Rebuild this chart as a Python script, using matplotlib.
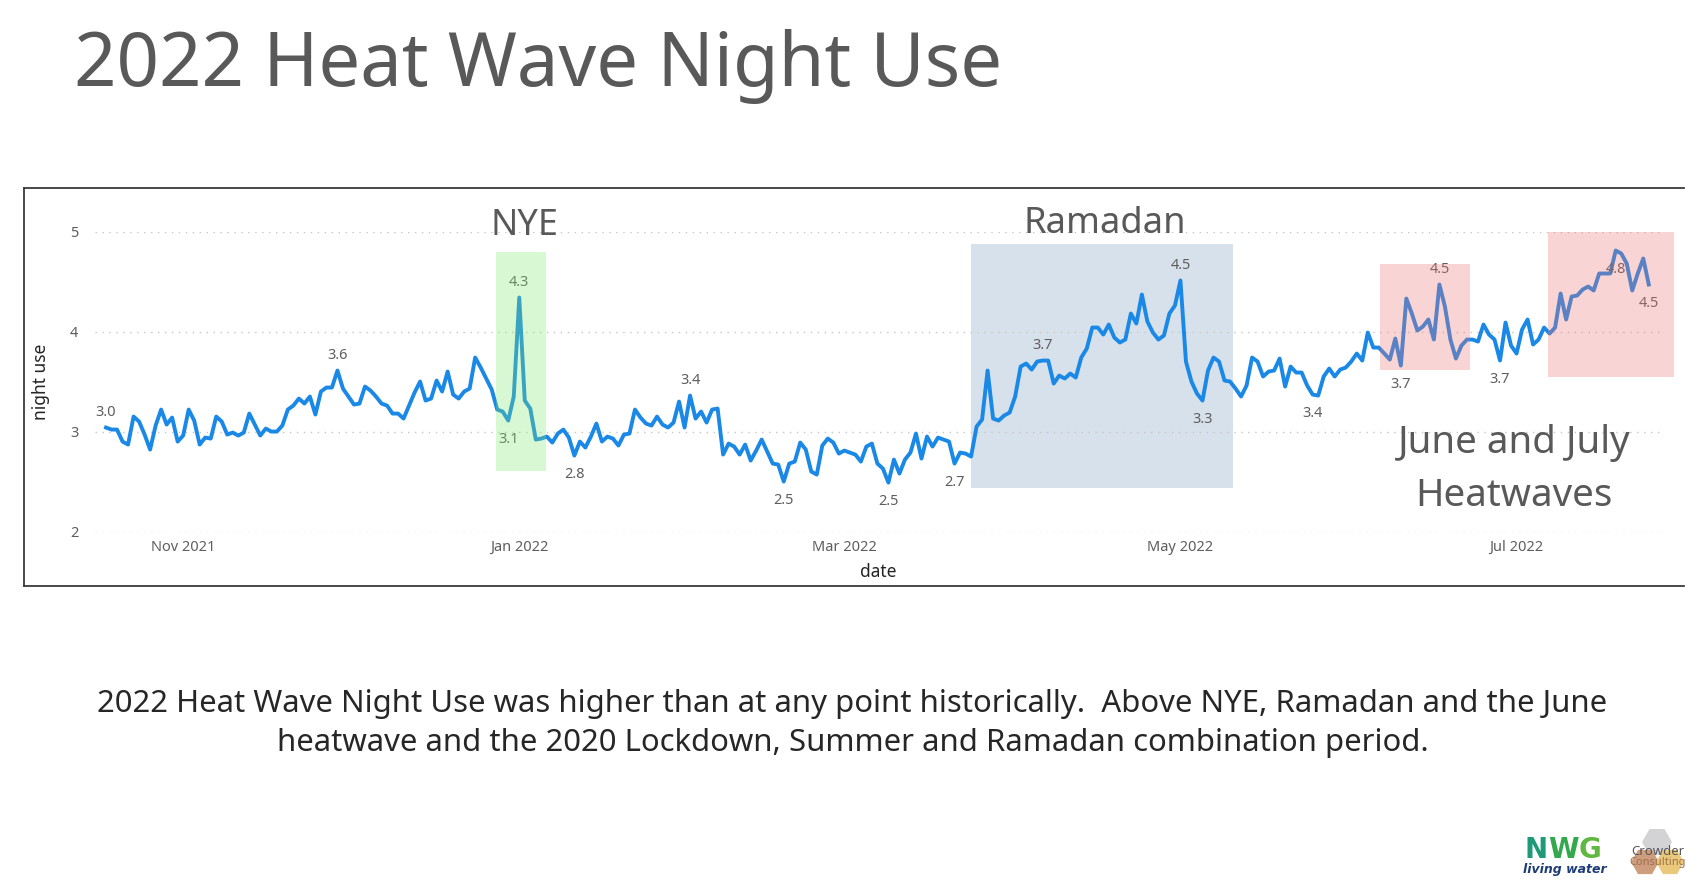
import pandas as pd
import matplotlib
matplotlib.use('Agg')
import matplotlib.pyplot as plt
import matplotlib.dates as mdates
from matplotlib.patches import Rectangle, RegularPolygon
from matplotlib.lines import Line2D
from matplotlib.transforms import IdentityTransform

plt.rcParams['font.family'] = ['Noto Sans', 'DejaVu Sans']

W, H = 1701, 883

# daily night use
start_date = '2021-10-18'
night_use = [
    3.04, 3.02, 3.02, 2.90, 2.87, 3.15, 3.10, 2.97, 2.82, 3.06,
    3.22, 3.07, 3.14, 2.90, 2.96, 3.22, 3.11, 2.87, 2.94, 2.93,
    3.15, 3.10, 2.97, 2.99, 2.96, 2.99, 3.18, 3.07, 2.96, 3.03,
    3.00, 3.00, 3.06, 3.22, 3.26, 3.33, 3.28, 3.35, 3.17, 3.40,
    3.44, 3.44, 3.61, 3.43, 3.35, 3.27, 3.28, 3.45, 3.41, 3.35,
    3.28, 3.26, 3.18, 3.18, 3.13, 3.26, 3.39, 3.50, 3.31, 3.33,
    3.51, 3.40, 3.60, 3.37, 3.33, 3.40, 3.43, 3.74, 3.64, 3.53,
    3.42, 3.22, 3.20, 3.11, 3.35, 4.34, 3.31, 3.23, 2.92, 2.93,
    2.95, 2.89, 2.98, 3.02, 2.94, 2.76, 2.90, 2.84, 2.95, 3.08,
    2.90, 2.95, 2.93, 2.86, 2.97, 2.98, 3.22, 3.14, 3.08, 3.06,
    3.15, 3.07, 3.04, 3.09, 3.30, 3.04, 3.36, 3.13, 3.20, 3.09,
    3.22, 3.23, 2.77, 2.88, 2.85, 2.77, 2.87, 2.71, 2.81, 2.92,
    2.80, 2.68, 2.67, 2.50, 2.68, 2.70, 2.89, 2.82, 2.60, 2.57,
    2.86, 2.93, 2.89, 2.78, 2.81, 2.79, 2.77, 2.70, 2.85, 2.88,
    2.68, 2.63, 2.49, 2.72, 2.58, 2.72, 2.79, 2.98, 2.73, 2.95,
    2.85, 2.94, 2.92, 2.90, 2.68, 2.79, 2.78, 2.75, 3.05, 3.12,
    3.61, 3.13, 3.11, 3.16, 3.19, 3.35, 3.65, 3.68, 3.62, 3.70,
    3.71, 3.71, 3.48, 3.56, 3.53, 3.58, 3.54, 3.74, 3.83, 4.04,
    4.04, 3.97, 4.07, 3.94, 3.89, 3.92, 4.18, 4.08, 4.37, 4.10,
    3.99, 3.92, 3.96, 4.18, 4.26, 4.51, 3.70, 3.50, 3.38, 3.31,
    3.61, 3.74, 3.70, 3.51, 3.50, 3.43, 3.35, 3.46, 3.74, 3.70,
    3.55, 3.60, 3.61, 3.73, 3.45, 3.65, 3.59, 3.59, 3.46, 3.37,
    3.36, 3.55, 3.63, 3.55, 3.62, 3.64, 3.70, 3.78, 3.71, 3.99,
    3.84, 3.84, 3.78, 3.72, 3.93, 3.66, 4.33, 4.18, 4.01, 4.05,
    4.12, 3.92, 4.47, 4.25, 3.92, 3.73, 3.86, 3.92, 3.92, 3.90,
    4.07, 3.97, 3.92, 3.71, 4.09, 3.86, 3.78, 4.02, 4.12, 3.87,
    3.92, 4.04, 3.98, 4.04, 4.38, 4.12, 4.35, 4.36, 4.42, 4.45,
    4.41, 4.58, 4.58, 4.58, 4.81, 4.78, 4.68, 4.41, 4.58, 4.73,
    4.47,
]

# indices of points that carry a data label
labels_above = [0, 42, 75, 106, 170, 195, 242]
labels_below = [73, 85, 123, 142, 154, 199, 219, 235, 253, 274, 280]

# highlighted periods: start, end, low, high
nye_box = ('2021-12-27 17:00', '2022-01-05 19:00', 2.61, 4.80)
ramadan_box = ('2022-03-23 22:00', '2022-05-10 14:00', 2.435, 4.875)
heat_boxes = [('2022-06-06 05:00', '2022-06-22 12:00', 3.62, 4.68),
              ('2022-07-06 17:00', '2022-07-29 12:00', 3.55, 5.00)]

LINE = '#1a88e6'
GREY = '#605e5c'
TXT = '#595959'


def fx(x):
    return x / W


def fy(y):
    return 1 - y / H


def fit_width(t, width_px):
    r = fig.canvas.get_renderer()
    bb = t.get_window_extent(renderer=r)
    t.set_fontsize(t.get_fontsize() * width_px / bb.width)
    return t.get_fontsize()


def add_box(ax, box, color, alpha, z):
    x0 = mdates.date2num(pd.Timestamp(box[0]))
    x1 = mdates.date2num(pd.Timestamp(box[1]))
    ax.add_patch(Rectangle((x0, box[2]), x1 - x0, box[3] - box[2],
                           facecolor=color, alpha=alpha, edgecolor='none',
                           zorder=z, clip_on=False))


fig = plt.figure(figsize=(W / 100, H / 100), dpi=100)
fig.patch.set_facecolor('white')

ax = fig.add_axes([fx(95), fy(531.6), 1567 / W, 300.1 / H])
ax.set_facecolor('none')
dates = pd.date_range(start_date, periods=len(night_use), freq='D')
ax.plot(dates, night_use, color=LINE, lw=2.8, solid_joinstyle='round', zorder=3)

nov1 = pd.Timestamp('2021-11-01')
ax.set_xlim(nov1 - pd.Timedelta(days=16), nov1 + pd.Timedelta(days=268.4))
ax.set_ylim(2, 5)
ax.set_yticks([2, 3, 4, 5])
ax.xaxis.set_major_locator(mdates.MonthLocator(bymonth=[1, 3, 5, 7, 11]))
ax.xaxis.set_major_formatter(mdates.DateFormatter('%b %Y'))
ax.grid(axis='y', color='#c8c6c4', linestyle=(0, (1, 4)), lw=1)
ax.set_axisbelow(True)
for s in ax.spines.values():
    s.set_visible(False)
ax.tick_params(length=0, colors=GREY, labelsize=10.5)
ax.tick_params(axis='y', pad=12)
ax.tick_params(axis='x', pad=6)

ax.set_xlabel('date', fontsize=12.5, color='#252423')
ax.xaxis.set_label_coords(0.5, -0.105)
ax.set_ylabel('night use', fontsize=12.5, color='#252423')
ax.yaxis.set_label_coords(-0.029, 0.5)

add_box(ax, ramadan_box, '#d7e1eb', 1.0, 0.3)
add_box(ax, nye_box, '#80e870', 0.3, 5)
for b in heat_boxes:
    add_box(ax, b, '#ee7373', 0.3, 5)

for i in labels_above:
    ax.annotate(f'{night_use[i]:.1f}', (dates[i], night_use[i]), xytext=(0, 11),
                textcoords='offset points', ha='center', va='center',
                fontsize=10.5, color=GREY, zorder=4)
for i in labels_below:
    ax.annotate(f'{night_use[i]:.1f}', (dates[i], night_use[i]), xytext=(0, -13.5),
                textcoords='offset points', ha='center', va='center',
                fontsize=10.5, color=GREY, zorder=4)

# frame around the visual
for xs, ys in [([24, 24], [188, 586]), ([24, 1684], [188, 188]), ([24, 1684], [586, 586])]:
    fig.add_artist(Line2D([fx(v) for v in xs], [fy(v) for v in ys], color='#3a3a3a', lw=1.3))

title = fig.text(fx(74), fy(86), '2022 Heat Wave Night Use', fontsize=60, color=TXT,
                 ha='left', va='baseline')
fit_width(title, 929)

t = fig.text(fx(524), fy(235), 'NYE', fontsize=24, color=TXT, ha='center', va='baseline')
fit_width(t, 68)
t = fig.text(fx(1104.5), fy(233), 'Ramadan', fontsize=24, color=TXT, ha='center', va='baseline')
fit_width(t, 163)
t = fig.text(fx(1514), fy(453), 'June and July', fontsize=24, color=TXT, ha='center', va='baseline')
fs = fit_width(t, 233)
fig.text(fx(1514), fy(506), 'Heatwaves', fontsize=fs, color=TXT, ha='center', va='baseline')

t = fig.text(fx(852.5), fy(712), '2022 Heat Wave Night Use was higher than at any point historically.  '
             'Above NYE, Ramadan and the June', fontsize=20, color='#262626', ha='center', va='baseline')
fs = fit_width(t, 1510)
fig.text(fx(852.5), fy(751), 'heatwave and the 2020 Lockdown, Summer and Ramadan combination period.',
         fontsize=fs, color='#262626', ha='center', va='baseline')

# logos
for letter, lx, c in [('N', 1536, '#1f9a78'), ('W', 1563, '#33a84c'), ('G', 1590, '#5fb83f')]:
    fig.text(fx(lx), fy(858), letter, fontsize=20, fontweight='bold', color=c,
             family='DejaVu Sans', ha='center', va='baseline')
lw_txt = fig.text(fx(1565), fy(873), 'living water', fontsize=11.5, style='italic', fontweight='bold',
                  color='#1d3c78', family='DejaVu Sans', ha='center', va='baseline')
fit_width(lw_txt, 84)
for cx, cy, r, c in [(1657, 842, 15, '#cfcfd2'), (1645, 862, 14, '#c89270'), (1670, 862, 14, '#e9c46e')]:
    fig.add_artist(RegularPolygon((cx, H - cy), 6, radius=r, orientation=0.5236,
                                  facecolor=c, edgecolor='none', alpha=0.9,
                                  transform=IdentityTransform()))
fig.text(fx(1658), fy(855), 'Crowder', fontsize=9.5, color='#555555', ha='center', va='baseline')
fig.text(fx(1658), fy(865), 'Consulting', fontsize=8, color='#a06e4c', ha='center', va='baseline')

fig.savefig('out.png', dpi=100, facecolor='white')
